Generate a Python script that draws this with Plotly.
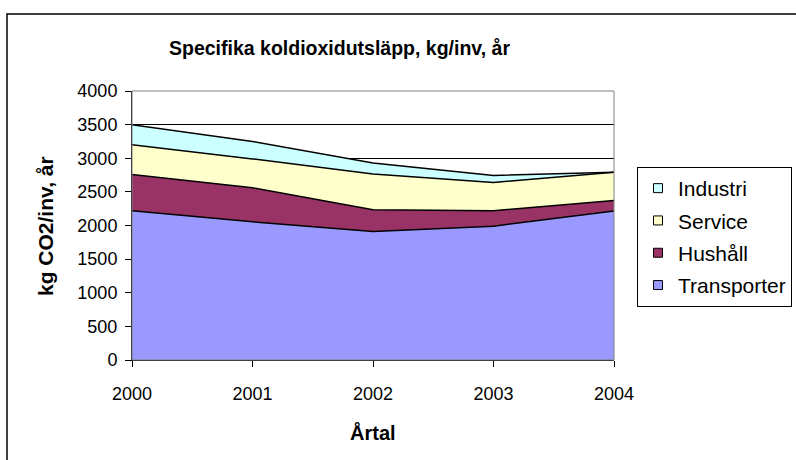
import plotly.graph_objects as go

years = [2000, 2001, 2002, 2003, 2004]
transporter = [2220, 2055, 1910, 1990, 2215]
hushall = [540, 505, 325, 230, 155]
service = [440, 430, 530, 420, 420]
industri = [300, 260, 165, 105, 0]

series = [
    ("Transporter", transporter, "#9999FF"),
    ("Hushåll", hushall, "#993366"),
    ("Service", service, "#FFFFCC"),
    ("Industri", industri, "#CCFFFF"),
]

FONT = "Liberation Sans, Arial, sans-serif"
W, H = 796, 460
L, R, T, B = 132, 182, 91, 100

fig = go.Figure()
for name, vals, col in series:
    fig.add_trace(go.Scatter(
        x=years, y=vals, name=name, stackgroup="one", mode="lines",
        line=dict(color="black", width=1.5), fillcolor=col,
        showlegend=False, hoverinfo="skip"))

for name, vals, col in reversed(series):
    fig.add_trace(go.Scatter(
        x=[None], y=[None], name=name, mode="markers", legendgroup=name,
        marker=dict(symbol="square", size=9, color=col,
                    line=dict(color="black", width=1))))

pw = W - L - R
ph = H - T - B

def px(x):
    return (x - L) / pw

def py(y):
    return (H - B - y) / ph

fig.update_layout(
    width=W, height=H,
    margin=dict(l=L, r=R, t=T, b=B, autoexpand=False),
    paper_bgcolor="white", plot_bgcolor="white",
    font=dict(family=FONT, size=18, color="black"),
    showlegend=True,
    legend=dict(x=px(637), y=py(167), xanchor="left", yanchor="top",
                bordercolor="black", borderwidth=1, bgcolor="white",
                font=dict(size=21), tracegroupgap=2, itemwidth=30),
    xaxis=dict(range=[2000, 2004], tickmode="array", tickvals=years,
               ticktext=[str(y) for y in years], showgrid=False,
               showline=True, linecolor="black", linewidth=1,
               ticks="outside", ticklen=6, tickcolor="black", zeroline=False,
               tickfont=dict(size=18), ticklabelstandoff=11),
    yaxis=dict(range=[0, 4000], dtick=500, showgrid=True, gridcolor="black",
               gridwidth=1, showline=True, linecolor="black", linewidth=1,
               ticks="outside", ticklen=6, tickcolor="black", zeroline=False,
               tickfont=dict(size=18), ticklabelstandoff=4),
    shapes=[
        dict(type="rect", xref="paper", yref="paper", x0=0, x1=1, y0=0, y1=1,
             line=dict(color="#808080", width=1), layer="above"),
        dict(type="rect", xref="paper", yref="paper",
             x0=px(7), x1=px(830), y0=py(14), y1=py(500),
             line=dict(color="black", width=1.5), layer="below"),
    ],
    annotations=[
        dict(text="<b>Specifika koldioxidutsläpp, kg/inv, år</b>",
             xref="paper", yref="paper", x=px(339), y=py(48),
             xanchor="center", yanchor="middle", showarrow=False,
             font=dict(size=19.5)),
        dict(text="<b>kg CO2/inv, år</b>", textangle=-90,
             xref="paper", yref="paper", x=px(45), y=py(226),
             xanchor="center", yanchor="middle", showarrow=False,
             font=dict(size=21)),
        dict(text="<b>Årtal</b>",
             xref="paper", yref="paper", x=px(373), y=py(432),
             xanchor="center", yanchor="middle", showarrow=False,
             font=dict(size=20)),
    ],
)

fig.write_html("out.html", config={"displayModeBar": False},
               post_script="document.body.style.margin='0';")
